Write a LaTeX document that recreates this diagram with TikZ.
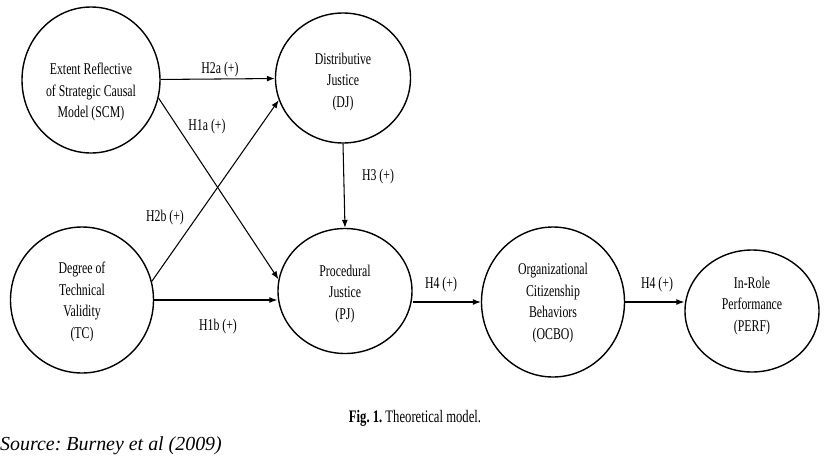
\documentclass[tikz,border=0pt]{standalone}
\usepackage{fontspec}
\setmainfont{Liberation Serif}
\newfontfamily\condfont{Liberation Serif}[FakeStretch=0.72]
\usetikzlibrary{arrows.meta,shapes.geometric}
\frenchspacing

\begin{document}
\begin{tikzpicture}[x=0.03cm,y=-0.03cm,
  construct/.style={draw,ellipse,line width=1.2pt,inner sep=0pt},
  constructtext/.style={align=center,inner sep=0pt,font=\condfont\fontsize{14}{18.5}\selectfont},
  link/.style={line width=0.9pt,-{Latex[length=2.4mm,width=1.8mm]}},
  hyp/.style={font=\condfont\fontsize{14}{15}\selectfont}]
\useasboundingbox (0,0) rectangle (831,468);

% constructs
\node[construct,minimum width=4.14cm,minimum height=4.38cm] (scm) at (91,80) {};
\node[construct,minimum width=4.05cm,minimum height=3.9cm] (dj) at (343,78) {};
\node[construct,minimum width=4.29cm,minimum height=4.38cm] (tc) at (82,300) {};
\node[construct,minimum width=4.02cm,minimum height=3.75cm] (pj) at (345,291) {};
\node[construct,minimum width=4.29cm,minimum height=4.5cm] (ocbo) at (553,302) {};
\node[construct,minimum width=4.02cm,minimum height=3.66cm] (perf) at (752,311) {};

\node[constructtext] (scm-text) at (91,92) {Extent Reflective\\of Strategic Causal\\Model (SCM)};
\node[constructtext] (dj-text) at (343,82) {Distributive\\Justice\\(DJ)};
\node[constructtext] (tc-text) at (82,302) {Degree of\\Technical\\Validity\\(TC)};
\node[constructtext] (pj-text) at (345,294) {Procedural\\Justice\\(PJ)};
\node[constructtext] (ocbo-text) at (553,303) {Organizational\\Citizenship\\Behaviors\\(OCBO)};
\node[constructtext] (perf-text) at (752,306) {In-Role\\Performance\\(PERF)};

% hypotheses
\draw[link] (scm) -- (dj);
\draw[link] (scm.-15) -- (pj.170);
\draw[link] (tc.15) -- (dj.199);
\draw[link] (tc.east) -- (tc.east -| pj.west);
\draw[link] (dj.south) -- (pj.north);
\draw[link] (ocbo.west -| pj.east) -- (ocbo.west);
\draw[link] (ocbo.east) -- (ocbo.east -| perf.west);

\node[hyp] (h2a) at (220,70) {H2a (+)};
\node[hyp] (h1a) at (207,127) {H1a (+)};
\node[hyp] (h2b) at (165,218) {H2b (+)};
\node[hyp] (h1b) at (218,327) {H1b (+)};
\node[hyp] (h3) at (378,177) {H3 (+)};
\node[hyp] (h4a) at (441,285) {H4 (+)};
\node[hyp] (h4b) at (657,285) {H4 (+)};

% caption and source
\node[font=\condfont\fontsize{15}{17}\selectfont] (caption) at (415,418) {\textbf{Fig. 1.} Theoretical model.};
\node[anchor=west,inner sep=0pt,font=\fontsize{17}{20}\selectfont\itshape] (source) at (0,446) {Source: Burney et al (2009)};
\end{tikzpicture}
\end{document}
